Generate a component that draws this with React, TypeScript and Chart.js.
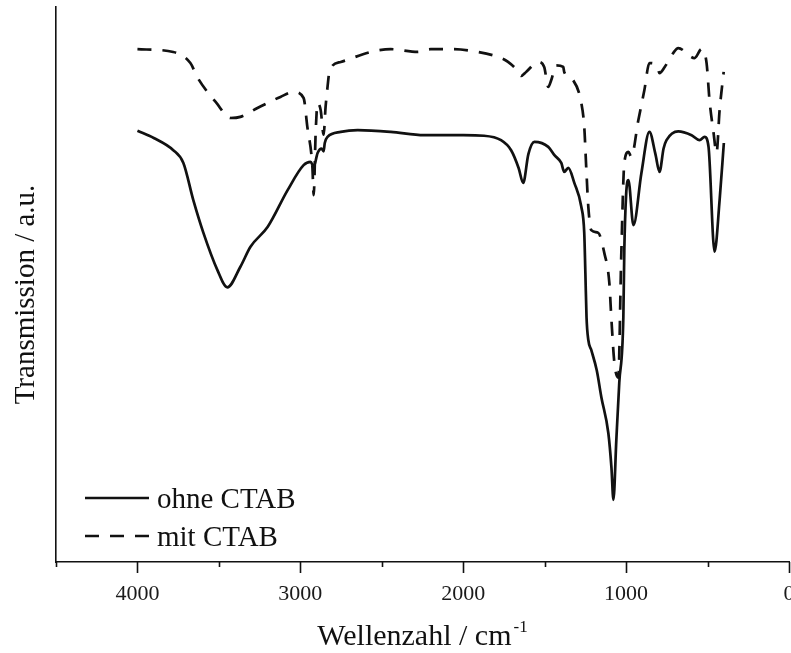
import React, { useEffect, useRef } from "react";
import { Chart, registerables } from "chart.js";

Chart.register(...registerables);

// ---- data (wavenumber in cm^-1, transmission in arbitrary units) ----
const ohneWavenumber = [
  4000, 3900, 3780, 3718, 3657, 3595, 3509, 3448, 3368, 3306,
  3200, 3078, 2980, 2937, 2918, 2894, 2870, 2857, 2850, 2833,
  2752, 2648, 2445, 2240, 2000, 1872, 1768, 1706, 1660, 1632,
  1600, 1563, 1478, 1440, 1398, 1380, 1355, 1318, 1275, 1257,
  1250, 1243, 1232, 1214, 1180, 1152, 1109, 1090, 1078, 1060,
  1042, 1017, 1011, 1000, 986, 955, 906, 857, 820, 795,
  770, 752, 680, 598, 549, 518, 494, 457, 426, 400,
];
const ohneTransmission = [
  77.7, 76.4, 74.2, 71.9, 65.2, 59.3, 52.6, 49.5, 53.2, 56.8,
  60.4, 67.0, 71.5, 72.1, 71.2, 73.7, 74.5, 74.0, 75.5, 76.6,
  77.5, 77.8, 77.5, 76.9, 76.9, 76.8, 76.0, 74.2, 71.0, 68.3,
  73.5, 75.7, 74.8, 73.3, 71.9, 70.3, 71.0, 68.3, 64.0, 59.3,
  52.0, 44.1, 40.0, 38.2, 34.5, 29.7, 23.2, 17.0, 11.2, 22.0,
  32.3, 44.1, 56.2, 66.1, 68.8, 60.7, 70.1, 77.5, 73.5, 70.3,
  74.5, 76.0, 77.6, 76.9, 76.0, 76.6, 74.8, 55.9, 65.2, 75.5,
];
const mitWavenumber = [
  4000, 3780, 3675, 3633, 3571, 3520, 3428, 3368, 3263, 3122,
  3042, 2980, 2957, 2926, 2918, 2906, 2894, 2875, 2857, 2845,
  2833, 2820, 2752, 2568, 2445, 2280, 2200, 2075, 1909, 1768,
  1725, 1660, 1645, 1614, 1540, 1503, 1478, 1460, 1429, 1386,
  1380, 1325, 1275, 1257, 1245, 1232, 1214, 1171, 1134, 1103,
  1091, 1072, 1048, 1030, 1011, 986, 968, 925, 888, 857,
  812, 795, 763, 711, 680, 580, 537, 506, 488, 463,
  445, 426, 401,
];
const mitTransmission = [
  92.4, 91.9, 89.9, 87.4, 84.7, 82.9, 80.0, 80.2, 81.8, 83.8,
  84.7, 83.6, 78.4, 71.2, 66.1, 77.3, 82.7, 81.4, 77.0, 82.0,
  85.6, 88.6, 90.1, 91.9, 92.4, 91.9, 92.4, 92.4, 91.9, 90.8,
  90.1, 88.3, 87.6, 88.3, 90.1, 89.2, 85.6, 86.8, 89.5, 89.2,
  88.3, 86.8, 82.7, 78.4, 71.2, 64.0, 59.8, 59.3, 55.7, 50.3,
  44.1, 35.9, 33.2, 55.0, 71.9, 73.9, 73.0, 79.6, 85.0, 89.9,
  89.5, 88.1, 89.2, 91.7, 92.6, 90.8, 92.4, 89.9, 83.2, 77.3,
  73.7, 81.4, 88.3,
];

const majorTicks = [4000, 3000, 2000, 1000, 0];
const minorTicks = [4500, 3500, 2500, 1500, 500];
const seriesLabels = ["ohne CTAB", "mit CTAB"];
const xTitle = "Wellenzahl / cm";
const xTitleSup = "-1";
const yTitle = "Transmission / a.u.";

const FONT = "'Liberation Serif', 'Times New Roman', serif";
const INK = "#111111";
const DASH = [14, 11];

const decorPlugin = {
  id: "decor",
  afterDraw(chart: any) {
    const { ctx, chartArea } = chart;
    const xs = chart.scales.x;
    ctx.save();
    // tick marks
    ctx.strokeStyle = INK;
    ctx.lineWidth = 1.6;
    const drawTick = (v: number, len: number) => {
      const px = Math.round(xs.getPixelForValue(v)) + 0.5;
      ctx.beginPath();
      ctx.moveTo(px, chartArea.bottom);
      ctx.lineTo(px, chartArea.bottom + len);
      ctx.stroke();
    };
    majorTicks.forEach((v) => drawTick(v, 11));
    minorTicks.forEach((v) => drawTick(v, 5));

    ctx.fillStyle = INK;
    // x title
    ctx.font = `30px ${FONT}`;
    ctx.textBaseline = "alphabetic";
    ctx.textAlign = "left";
    const mainW = ctx.measureText(xTitle).width;
    ctx.font = `17px ${FONT}`;
    const supW = ctx.measureText(xTitleSup).width;
    const cx = (chartArea.left + chartArea.right) / 2;
    const startX = cx - (mainW + supW + 2) / 2;
    ctx.font = `30px ${FONT}`;
    ctx.fillText(xTitle, startX, 645);
    ctx.font = `17px ${FONT}`;
    ctx.fillText(xTitleSup, startX + mainW + 2, 632);

    // y title
    ctx.save();
    ctx.translate(34, (chartArea.top + chartArea.bottom) / 2 + 10);
    ctx.rotate(-Math.PI / 2);
    ctx.font = `29px ${FONT}`;
    ctx.textAlign = "center";
    ctx.textBaseline = "alphabetic";
    ctx.fillText(yTitle, 0, 0);
    ctx.restore();

    // legend
    const lx0 = 85;
    const lx1 = 149;
    const rows = [498, 536];
    ctx.lineWidth = 2.7;
    ctx.strokeStyle = INK;
    rows.forEach((y, i) => {
      ctx.setLineDash(i === 0 ? [] : DASH);
      ctx.beginPath();
      ctx.moveTo(lx0, y);
      ctx.lineTo(lx1, y);
      ctx.stroke();
      ctx.setLineDash([]);
      ctx.font = `29px ${FONT}`;
      ctx.textAlign = "left";
      ctx.textBaseline = "alphabetic";
      ctx.fillText(seriesLabels[i], 157, y + 10);
    });
    ctx.restore();
  },
};

export default function App() {
  const ref = useRef<HTMLCanvasElement | null>(null);

  useEffect(() => {
    if (!ref.current) return;
    const chart = new Chart(ref.current, {
      type: "line",
      data: {
        datasets: [
          {
            label: seriesLabels[0],
            data: ohneWavenumber.map((w, i) => ({ x: w, y: ohneTransmission[i] })),
            borderColor: INK,
            borderWidth: 2.7,
            pointRadius: 0,
            fill: false,
            cubicInterpolationMode: "monotone",
          },
          {
            label: seriesLabels[1],
            data: mitWavenumber.map((w, i) => ({ x: w, y: mitTransmission[i] })),
            borderColor: INK,
            borderWidth: 2.7,
            borderDash: DASH,
            pointRadius: 0,
            fill: false,
            cubicInterpolationMode: "monotone",
          },
        ],
      },
      options: {
        animation: false,
        responsive: false,
        devicePixelRatio: 1,
        layout: { padding: { top: 7, right: 2, left: 0, bottom: 0 } },
        plugins: { legend: { display: false }, tooltip: { enabled: false } },
        scales: {
          x: {
            type: "linear",
            min: 0,
            max: 4500,
            reverse: true,
            afterBuildTicks: (s: any) => {
              s.ticks = majorTicks.map((v) => ({ value: v }));
            },
            afterFit: (s: any) => {
              s.height = 91;
              s.paddingLeft = 0;
              s.paddingRight = 0;
            },
            grid: { display: false, drawTicks: true, tickLength: 11 },
            border: { display: true, color: INK, width: 1.6 },
            ticks: {
              autoSkip: false,
              maxRotation: 0,
              padding: 8,
              color: "#1a1a1a",
              font: { family: FONT, size: 22 },
              callback: (v: any) => String(v),
            },
          },
          y: {
            min: 0,
            max: 100,
            afterFit: (s: any) => {
              s.width = 56;
            },
            grid: { display: false, drawTicks: false },
            border: { display: true, color: INK, width: 1.6 },
            ticks: { display: false },
          },
        },
      },
      plugins: [decorPlugin],
    });
    return () => chart.destroy();
  }, []);

  return (
    <div
      style={{
        position: "fixed",
        left: 0,
        top: 0,
        width: 791,
        height: 653,
        background: "#fff",
      }}
    >
      <canvas ref={ref} width={791} height={653} style={{ display: "block" }} />
    </div>
  );
}
